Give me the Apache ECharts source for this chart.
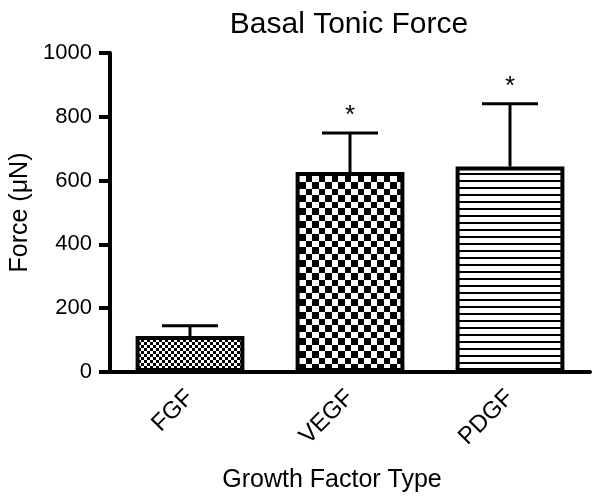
<!DOCTYPE html>
<html>
<head>
<meta charset="utf-8">
<script src="https://cdn.jsdelivr.net/npm/echarts@6/dist/echarts.min.js"></script>
<style>
  html, body { margin: 0; padding: 0; background: #fff; }
  #main { width: 600px; height: 502px; }
</style>
</head>
<body>
<div id="main"></div>
<script>
// data
var categories = ['FGF', 'VEGF', 'PDGF'];
var meanForce = [113, 627, 644];
var errorTop = [145, 749, 841];
var sigMarks = ['', '*', '*'];
var yTicks = [0, 200, 400, 600, 800, 1000];

var FONT = '"Liberation Sans", Arial, sans-serif';

// fill patterns drawn on small canvases
function makePattern(kind) {
  var c = document.createElement('canvas');
  var ctx;
  if (kind === 'fineCheck') {
    c.width = 6; c.height = 6;
    ctx = c.getContext('2d');
    ctx.fillStyle = '#fff'; ctx.fillRect(0, 0, 6, 6);
    ctx.fillStyle = '#000';
    ctx.fillRect(0, 0, 3, 3); ctx.fillRect(3, 3, 3, 3);
  } else if (kind === 'check') {
    c.width = 13; c.height = 13;
    ctx = c.getContext('2d');
    ctx.fillStyle = '#fff'; ctx.fillRect(0, 0, 13, 13);
    ctx.fillStyle = '#000';
    ctx.fillRect(0, 0, 7, 7); ctx.fillRect(7, 7, 6, 6);
  } else {
    c.width = 8; c.height = 7;
    ctx = c.getContext('2d');
    ctx.fillStyle = '#fff'; ctx.fillRect(0, 0, 8, 7);
    ctx.fillStyle = '#000';
    ctx.fillRect(0, 5, 8, 2);
  }
  return { image: c, repeat: 'repeat' };
}
var patterns = [makePattern('fineCheck'), makePattern('check'), makePattern('lines')];

var barData = meanForce.map(function (v, i) {
  return { value: v, itemStyle: { color: patterns[i] } };
});
var errData = categories.map(function (c, i) {
  return [i, meanForce[i], errorTop[i], sigMarks[i]];
});

var chart = echarts.init(document.getElementById('main'));
chart.setOption({
  animation: false,
  title: {
    text: 'Basal Tonic Force',
    left: 344, top: 5, textAlign: 'center',
    textStyle: { fontFamily: FONT, fontSize: 30, fontWeight: 'normal', color: '#000' }
  },
  grid: { left: 110, right: 10, top: 53, bottom: 130, outerBoundsMode: 'none', containLabel: false },
  xAxis: {
    type: 'category',
    data: categories,
    name: 'Growth Factor Type',
    nameLocation: 'middle',
    nameGap: 96,
    nameTextStyle: { fontFamily: FONT, fontSize: 25, color: '#000', padding: [0, 36, 0, 0] },
    axisLine: { lineStyle: { color: '#000', width: 4 } },
    axisTick: { alignWithLabel: true, length: 11, lineStyle: { width: 4, color: '#000' } },
    axisLabel: { rotate: 45, margin: 22, fontFamily: FONT, fontSize: 24, color: '#000' }
  },
  yAxis: {
    type: 'value',
    min: 0, max: 1000, interval: 200,
    name: 'Force (\u03bcN)',
    nameLocation: 'middle',
    nameGap: 74,
    nameTextStyle: { fontFamily: FONT, fontSize: 25, color: '#000' },
    splitLine: { show: false },
    axisLine: { show: true, lineStyle: { color: '#000', width: 4 } },
    axisTick: { show: true, length: 11, lineStyle: { width: 4, color: '#000' } },
    axisLabel: {
      margin: 18, fontFamily: FONT, fontSize: 22, color: '#000',
      formatter: function (v) { return yTicks.indexOf(v) >= 0 ? String(v) : ''; }
    }
  },
  series: [
    {
      type: 'custom',
      data: errData,
      z: 1,
      renderItem: function (params, api) {
        var x = api.value(0);
        var lo = api.coord([x, api.value(1)]);
        var hi = api.coord([x, api.value(2)]);
        var half = 28;
        var st = { stroke: '#000', lineWidth: 3 };
        var kids = [
          { type: 'line', shape: { x1: lo[0], y1: lo[1], x2: hi[0], y2: hi[1] }, style: st },
          { type: 'line', shape: { x1: hi[0] - half, y1: hi[1], x2: hi[0] + half, y2: hi[1] }, style: st }
        ];
        var mark = sigMarks[params.dataIndex];
        if (mark) {
          kids.push({
            type: 'text',
            style: {
              text: mark, x: hi[0], y: hi[1] - 17,
              align: 'center', verticalAlign: 'middle',
              font: '26px ' + FONT, fill: '#000'
            }
          });
        }
        return { type: 'group', children: kids };
      }
    },
    {
      type: 'bar',
      data: barData,
      barWidth: '68%',
      z: 2,
      itemStyle: { borderColor: '#000', borderWidth: 4 }
    }
  ]
});
</script>
</body>
</html>
